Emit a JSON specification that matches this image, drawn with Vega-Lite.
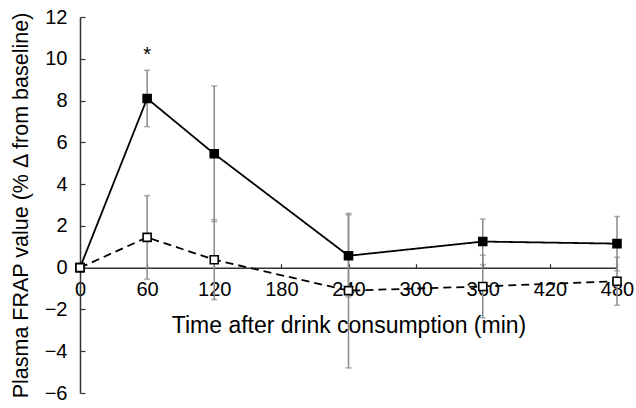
{
  "$schema": "https://vega.github.io/schema/vega-lite/v6.json",
  "width": 537,
  "height": 376,
  "autosize": {"type": "none"},
  "padding": {"left": 80, "top": 17, "right": 19, "bottom": 15},
  "background": "white",
  "config": {
    "view": {"stroke": null},
    "font": "Liberation Sans",
    "axis": {"labelFont": "Liberation Sans", "titleFont": "Liberation Sans", "labelColor": "black", "titleColor": "black", "labelFontSize": 20, "titleFontSize": 21.5, "titleFontWeight": "normal", "domainColor": "#333333", "tickColor": "#333333", "domainWidth": 1.5, "tickWidth": 1.2, "grid": false}
  },
  "datasets": {
    "pts": [
      {"t": 0, "series": "A", "mean": 0, "lo": 0, "hi": 0},
      {"t": 60, "series": "A", "mean": 8.1, "lo": 6.75, "hi": 9.45},
      {"t": 120, "series": "A", "mean": 5.45, "lo": 2.2, "hi": 8.7},
      {"t": 240, "series": "A", "mean": 0.57, "lo": -1.4, "hi": 2.53},
      {"t": 360, "series": "A", "mean": 1.25, "lo": 0.15, "hi": 2.33},
      {"t": 480, "series": "A", "mean": 1.15, "lo": -0.15, "hi": 2.45},
      {"t": 0, "series": "B", "mean": 0, "lo": 0, "hi": 0},
      {"t": 60, "series": "B", "mean": 1.45, "lo": -0.55, "hi": 3.45},
      {"t": 120, "series": "B", "mean": 0.38, "lo": -1.53, "hi": 2.3},
      {"t": 240, "series": "B", "mean": -1.1, "lo": -4.8, "hi": 2.6},
      {"t": 360, "series": "B", "mean": -0.9, "lo": -2.4, "hi": 0.6},
      {"t": 480, "series": "B", "mean": -0.65, "lo": -1.8, "hi": 0.5}
    ],
    "note": [{"t": 60, "v": 10.2, "label": "*"}]
  },
  "data": {"name": "pts"},
  "encoding": {
    "x": {
      "field": "t", "type": "quantitative",
      "scale": {"domain": [0, 480], "nice": false, "zero": false},
      "axis": {"values": [0, 60, 120, 180, 240, 300, 360, 420, 480], "title": "Time after drink consumption (min)", "titleFontSize": 23, "offset": -125.33, "tickSize": -4, "labelPadding": 16, "titlePadding": 15, "labelFlush": false}
    }
  },
  "layer": [
    {
      "mark": {"type": "rule", "color": "#8a8a8a", "strokeWidth": 1.5},
      "encoding": {
        "y": {"field": "lo", "type": "quantitative", "scale": {"domain": [-6, 12], "nice": false}, "axis": {"values": [-6, -4, -2, 0, 2, 4, 6, 8, 10, 12], "title": "Plasma FRAP value (% \u0394 from baseline)", "tickSize": -5, "labelPadding": 18, "titlePadding": 12}},
        "y2": {"field": "hi"}
      }
    },
    {
      "mark": {"type": "tick", "color": "#8a8a8a", "orient": "horizontal", "size": 6, "thickness": 1.5},
      "encoding": {"y": {"field": "lo", "type": "quantitative"}}
    },
    {
      "mark": {"type": "tick", "color": "#8a8a8a", "orient": "horizontal", "size": 6, "thickness": 1.5},
      "encoding": {"y": {"field": "hi", "type": "quantitative"}}
    },
    {
      "mark": {"type": "line", "color": "black", "strokeWidth": 1.8},
      "encoding": {
        "y": {"field": "mean", "type": "quantitative"},
        "detail": {"field": "series"},
        "strokeDash": {"field": "series", "type": "nominal", "scale": {"domain": ["A", "B"], "range": [[1, 0], [8, 5]]}, "legend": null}
      }
    },
    {
      "mark": {"type": "square", "size": 64, "opacity": 1, "stroke": "black", "strokeWidth": 1.6},
      "encoding": {
        "y": {"field": "mean", "type": "quantitative"},
        "fill": {"field": "series", "type": "nominal", "scale": {"domain": ["A", "B"], "range": ["black", "white"]}, "legend": null}
      }
    },
    {
      "data": {"name": "note"},
      "mark": {"type": "text", "fontSize": 20, "font": "Liberation Sans", "color": "black", "baseline": "middle"},
      "encoding": {
        "y": {"field": "v", "type": "quantitative"},
        "text": {"field": "label"}
      }
    }
  ]
}
